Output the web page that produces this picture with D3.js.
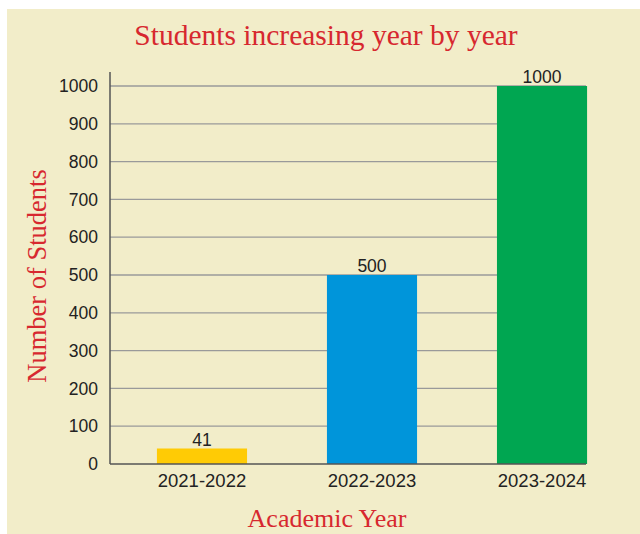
<!DOCTYPE html>
<html>
<head>
<meta charset="utf-8">
<script src="https://cdn.jsdelivr.net/npm/d3@7"></script>
<style>
  html, body { margin: 0; padding: 0; background: #ffffff; }
  svg { display: block; }
</style>
</head>
<body>
<svg id="chart" width="640" height="534"></svg>
<script>
const categories = ["2021-2022", "2022-2023", "2023-2024"];
const values = [41, 500, 1000];
const barColors = ["#FFCB05", "#0095DA", "#00A651"];
const yTicks = [0, 100, 200, 300, 400, 500, 600, 700, 800, 900, 1000];
const titleText = "Students increasing year by year";
const xTitle = "Academic Year";
const yTitle = "Number of Students";

const svg = d3.select("#chart");
const W = 640, H = 534;

svg.append("rect").attr("x", 7).attr("y", 9).attr("width", W - 7).attr("height", H - 9)
  .attr("fill", "#F2EDC9");

const x = d3.scaleBand().domain(categories).range([110, 634]).paddingInner(0.47).paddingOuter(0.276);
const y = d3.scaleLinear().domain([0, 1000]).range([464, 86]);
const gridRight = 586;

// gridlines
svg.append("g").selectAll("line").data(yTicks.filter(d => d > 0)).join("line")
  .attr("x1", 110).attr("x2", gridRight)
  .attr("y1", d => y(d)).attr("y2", d => y(d))
  .attr("stroke", "#9a9a9a").attr("stroke-width", 1.3);

// bars
svg.append("g").selectAll("rect").data(values).join("rect")
  .attr("x", (d, i) => x(categories[i]))
  .attr("width", x.bandwidth())
  .attr("y", d => y(d))
  .attr("height", d => y(0) - y(d))
  .attr("fill", (d, i) => barColors[i]);

// value labels
svg.append("g").selectAll("text").data(values).join("text")
  .attr("x", (d, i) => x(categories[i]) + x.bandwidth() / 2)
  .attr("y", d => y(d) - 3)
  .attr("text-anchor", "middle")
  .attr("font-family", "Liberation Sans, Arial, sans-serif")
  .attr("font-size", 17.5)
  .attr("fill", "#222")
  .text(d => d);

// y axis
const yAxis = d3.axisLeft(y).tickValues(yTicks).tickFormat(d3.format("d")).tickSize(0).tickPadding(12);
const gy = svg.append("g").attr("transform", "translate(110,0)").call(yAxis);
gy.select(".domain").remove();
gy.selectAll("text").attr("font-family", "Liberation Sans, Arial, sans-serif")
  .attr("font-size", 17.5).attr("fill", "#222");
svg.append("line").attr("x1", 110).attr("x2", 110).attr("y1", 72).attr("y2", y(0))
  .attr("stroke", "#555").attr("stroke-width", 1.5);

// x axis
const xAxis = d3.axisBottom(x).tickSize(0).tickPadding(10);
const gx = svg.append("g").attr("transform", `translate(0,${y(0)})`).call(xAxis);
gx.select(".domain").remove();
gx.selectAll("text").attr("font-family", "Liberation Sans, Arial, sans-serif")
  .attr("font-size", 18.5).attr("fill", "#222");
svg.append("line").attr("x1", 110).attr("x2", gridRight).attr("y1", y(0)).attr("y2", y(0))
  .attr("stroke", "#555").attr("stroke-width", 1.5);

// titles
svg.append("text").attr("x", 326).attr("y", 45).attr("text-anchor", "middle")
  .attr("font-family", "Liberation Serif, Times New Roman, serif").attr("font-size", 29.5)
  .attr("fill", "#D7282F").text(titleText);
svg.append("text").attr("x", 327).attr("y", 527).attr("text-anchor", "middle")
  .attr("font-family", "Liberation Serif, Times New Roman, serif").attr("font-size", 26)
  .attr("fill", "#D7282F").text(xTitle);
svg.append("text").attr("transform", "translate(46,276) rotate(-90)").attr("text-anchor", "middle")
  .attr("font-family", "Liberation Serif, Times New Roman, serif").attr("font-size", 26.5)
  .attr("fill", "#D7282F").text(yTitle);
</script>
</body>
</html>
